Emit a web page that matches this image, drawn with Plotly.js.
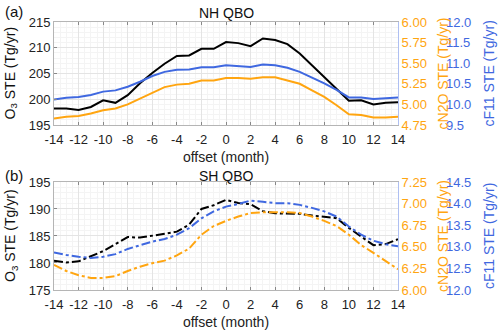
<!DOCTYPE html>
<html>
<head>
<meta charset="utf-8">
<script src="https://cdn.plot.ly/plotly-3.0.1.min.js"></script>
<style>
  html, body { margin: 0; padding: 0; background: #fff; }
  #chart { width: 500px; height: 331px; }
</style>
</head>
<body>
<div id="chart"></div>
<script>
// offset in months
var offsetMonths = [-14, -13, -12, -11, -10, -9, -8, -7, -6, -5, -4, -3, -2, -1, 0,
  1, 2, 3, 4, 5, 6, 7, 8, 9, 10, 11, 12, 13, 14];
var xTickVals = [-14, -12, -10, -8, -6, -4, -2, 0, 2, 4, 6, 8, 10, 12, 14];
var xTickText = ["-14", "-12", "-10", "-8", "-6", "-4", "-2", "0", "2", "4", "6", "8", "10", "12", "14"];

// (a) NH QBO
var nhO3 = [198.2, 198.2, 197.9, 198.5, 199.8, 199.3, 200.8, 203.1, 205.1, 206.9, 208.4, 208.5, 209.8, 209.8, 211.1,
  210.9, 210.3, 211.8, 211.5, 210.7, 208.9, 206.6, 204.2, 201.9, 199.7, 199.8, 199.0, 199.3, 199.4];
var nhN2O = [4.83, 4.85, 4.86, 4.89, 4.93, 4.95, 5.00, 5.07, 5.15, 5.21, 5.24, 5.25, 5.29, 5.29, 5.32,
  5.32, 5.31, 5.33, 5.33, 5.29, 5.25, 5.17, 5.09, 4.99, 4.88, 4.87, 4.84, 4.84, 4.85];
var nhF11 = [10.12, 10.16, 10.18, 10.23, 10.31, 10.34, 10.43, 10.55, 10.69, 10.79, 10.84, 10.85, 10.90, 10.90, 10.95,
  10.93, 10.91, 10.97, 10.95, 10.89, 10.79, 10.65, 10.51, 10.35, 10.17, 10.17, 10.13, 10.15, 10.17];

// (b) SH QBO
var shO3 = [180.4, 180.1, 180.3, 181.2, 182.2, 183.5, 184.8, 184.7, 185.0, 185.4, 185.8, 187.1, 190.0, 190.7, 191.7,
  191.1, 190.9, 189.6, 189.2, 189.2, 189.1, 188.8, 188.6, 188.3, 186.5, 184.9, 183.3, 183.5, 184.4];
var shN2O = [6.29, 6.22, 6.17, 6.14, 6.14, 6.16, 6.22, 6.27, 6.31, 6.34, 6.40, 6.48, 6.64, 6.74, 6.80,
  6.85, 6.89, 6.90, 6.90, 6.90, 6.89, 6.85, 6.80, 6.74, 6.64, 6.52, 6.43, 6.33, 6.24];
var shF11 = [12.87, 12.81, 12.77, 12.74, 12.77, 12.83, 12.95, 13.04, 13.12, 13.18, 13.28, 13.43, 13.66, 13.82, 13.93,
  13.99, 14.07, 14.04, 14.01, 14.01, 13.97, 13.90, 13.82, 13.70, 13.47, 13.28, 13.14, 13.06, 13.01];

var colO3 = "#000000";
var colN2O = "#FFA510";
var colF11 = "#3F68E0";
var fontFam = "Liberation Sans, Arial, sans-serif";

function linia(y, xa, ya, color, dash) {
  return {
    x: offsetMonths, y: y, xaxis: xa, yaxis: ya,
    type: "scatter", mode: "lines",
    line: { color: color, width: 2, dash: dash },
    hoverinfo: "none", showlegend: false
  };
}

var data = [
  linia(nhN2O, "x", "y2", colN2O, "solid"),
  linia(nhF11, "x", "y3", colF11, "solid"),
  linia(nhO3, "x", "y", colO3, "solid"),
  linia(shN2O, "x2", "y5", colN2O, "dashdot"),
  linia(shF11, "x2", "y6", colF11, "dashdot"),
  linia(shO3, "x2", "y4", colO3, "dashdot")
];

var xDom = [0.108, 0.796];
var domA = [0.6224, 0.9335];
var domB = [0.1239, 0.4502];

function sumbuX(anchor) {
  return {
    domain: xDom, anchor: anchor, range: [-14, 14],
    tickvals: xTickVals, ticktext: xTickText,
    ticks: "inside", ticklen: 3, tickcolor: "#888", ticklabelstandoff: 2,
    showline: true, linecolor: "#b5b5b5", linewidth: 1, mirror: "ticks",
    showgrid: true, gridcolor: "#e4e4e4", zeroline: false,
    minor: { dtick: 0.5, showgrid: true, gridcolor: "#f4f4f4", ticks: "" },
    tickfont: { size: 13, color: "#222" },
    title: { text: "offset (month)", font: { size: 14, color: "#222" }, standoff: 6 }
  };
}

function sumbuKiri(anchor, dom, rng) {
  return {
    domain: dom, anchor: anchor, range: rng, dtick: 5,
    ticks: "inside", ticklen: 3, tickcolor: "#888",
    showline: true, linecolor: "#b5b5b5", linewidth: 1,
    showgrid: true, gridcolor: "#e4e4e4", zeroline: false,
    minor: { dtick: 1, showgrid: true, gridcolor: "#f4f4f4", ticks: "" },
    tickfont: { size: 13, color: "#222" }
  };
}

function sumbuN2O(over, anchor, dom, rng) {
  return {
    domain: dom, overlaying: over, anchor: anchor, side: "right", range: rng,
    dtick: 0.25, tickformat: ".2f",
    ticks: "", showline: true, linecolor: "#aebff2", linewidth: 1,
    showgrid: false, zeroline: false,
    tickfont: { size: 13, color: colN2O }
  };
}

function sumbuF11(over, dom, rng) {
  return {
    domain: dom, overlaying: over, anchor: "free", position: 0.89, side: "right", range: rng,
    dtick: 0.5, tickformat: ".1f",
    ticks: "", showline: false, showgrid: false, zeroline: false,
    tickfont: { size: 13, color: colF11 }
  };
}

function judul(text, x, y, size, anchor) {
  return {
    text: text, xref: "paper", yref: "paper", x: x, y: y,
    xanchor: anchor, yanchor: "middle", showarrow: false,
    font: { size: size, color: "#111", family: fontFam }
  };
}

function judulY(text, x, y, color) {
  return {
    text: text, xref: "paper", yref: "paper", x: x, y: y,
    xanchor: "center", yanchor: "middle", showarrow: false, textangle: -90,
    font: { size: 14, color: color, family: fontFam }
  };
}

var layout = {
  width: 500, height: 331,
  margin: { l: 0, r: 0, t: 0, b: 0 },
  paper_bgcolor: "#fff", plot_bgcolor: "#fff",
  font: { family: fontFam },
  showlegend: false,
  xaxis: sumbuX("y"),
  yaxis: sumbuKiri("x", domA, [195, 215]),
  yaxis2: sumbuN2O("y", "x", domA, [4.75, 6.0]),
  yaxis3: sumbuF11("y", domA, [9.5, 12.0]),
  xaxis2: sumbuX("y4"),
  yaxis4: sumbuKiri("x2", domB, [175, 195]),
  yaxis5: sumbuN2O("y4", "x2", domB, [6.0, 7.25]),
  yaxis6: sumbuF11("y4", domB, [12.0, 14.5]),
  annotations: [
    judul("(a)", 0.006, 0.964, 15, "left"),
    judul("NH QBO", 0.452, 0.96, 14, "center"),
    judul("(b)", 0.006, 0.471, 15, "left"),
    judul("SH QBO", 0.452, 0.468, 14, "center"),
    judulY("O<sub>3</sub> STE (Tg/yr)", 0.022, 0.778, "#111"),
    judulY("cN2O STE (Tg/yr)", 0.886, 0.778, colN2O),
    judulY("cF11 STE (Tg/yr)", 0.978, 0.778, colF11),
    judulY("O<sub>3</sub> STE (Tg/yr)", 0.022, 0.287, "#111"),
    judulY("cN2O STE (Tg/yr)", 0.886, 0.287, colN2O),
    judulY("cF11 STE (Tg/yr)", 0.978, 0.287, colF11)
  ]
};

Plotly.newPlot("chart", data, layout, { staticPlot: true, displayModeBar: false });
</script>
</body>
</html>
